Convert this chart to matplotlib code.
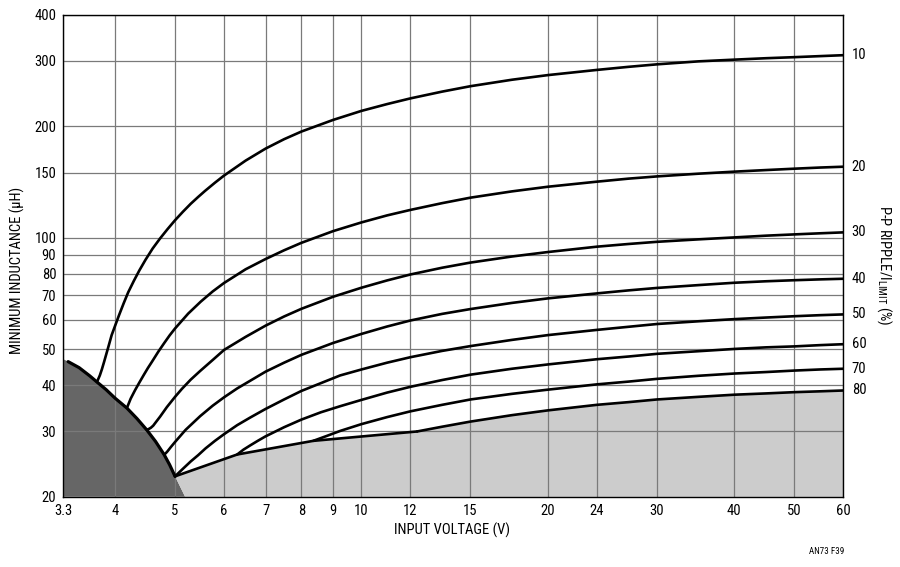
import matplotlib
matplotlib.use('Agg')
import matplotlib.pyplot as plt
from matplotlib import font_manager
from matplotlib.ticker import FixedLocator, FixedFormatter, NullLocator

_avail = {f.name for f in font_manager.fontManager.ttflist}
_main = 'DejaVu Sans'
for cand in ['Liberation Sans Narrow', 'Roboto Condensed', 'Arial Narrow', 'Open Sans Condensed',
             'Noto Sans Condensed', 'DejaVu Sans Condensed', 'Roboto', 'Liberation Sans']:
    if cand in _avail:
        _main = cand
        break
plt.rcParams['font.family'] = [_main, 'DejaVu Sans']
plt.rcParams['mathtext.fontset'] = 'custom'
plt.rcParams['mathtext.rm'] = _main

# ---------------- data ----------------
x_ticks = [3.3, 4, 5, 6, 7, 8, 9, 10, 12, 15, 20, 24, 30, 40, 50, 60]
x_tick_labels = ['3.3', '4', '5', '6', '7', '8', '9', '10', '12', '15', '20', '24', '30', '40', '50', '60']
y_ticks = [20, 30, 40, 50, 60, 70, 80, 90, 100, 150, 200, 300, 400]
y_tick_labels = ['20', '30', '40', '50', '60', '70', '80', '90', '100', '150', '200', '300', '400']

ripple_labels = ['10', '20', '30', '40', '50', '60', '70', '80']

c10_v = [3.74, 3.78, 3.81, 3.84, 3.9, 3.95, 4.0, 4.06, 4.13, 4.2, 4.29, 4.38, 4.48, 4.6, 4.73, 4.86, 5.0,
         5.15, 5.3, 5.45, 5.59, 5.8, 6, 6.5, 7, 7.5, 8, 9, 10, 11, 12, 13.5, 15, 17.5, 20, 24, 27, 30, 35, 40, 45, 50, 55, 60]
c10_l = [40.8, 42.5, 44.2, 46.2, 50.6, 54.6, 57.8, 61.8, 66.5, 71.2, 76.5, 81.7, 87.2, 93.5, 99.6, 105.4, 111.5,
         117.6, 123.5, 128.9, 133.8, 140.8, 147.2, 161.5, 174, 184.5, 193.5, 208, 220, 229.5, 237.8, 248, 256.5, 267, 274.8, 283.8, 289.3, 293.8, 299.3, 302.5, 305.2, 307.2, 309.2, 311]

c20_v = [4.18, 4.24, 4.31, 4.38, 4.45, 4.52, 4.59, 4.7, 4.8, 4.9, 5.0, 5.25, 5.5, 5.75, 6, 6.5, 7, 7.5, 8, 9, 10, 11, 12, 13.5, 15, 17.5, 20, 24, 27, 30, 35, 40, 45, 50, 55, 60]
c20_l = [34.7, 36.8, 38.8, 40.7, 42.6, 44.5, 46.3, 49.3, 51.9, 54.5, 56.9, 62.4, 67.2, 71.6, 75.5, 82.2, 87.6, 92.5, 96.9, 104.2, 110, 114.9, 118.9, 124, 128.3, 133.4, 137.3, 141.7, 144.4, 146.4, 148.9, 150.8, 152.3, 153.6, 154.7, 155.5]

c30_v = [4.50, 4.54, 4.57, 4.61, 4.65, 4.73, 4.85, 5.0, 5.13, 5.3, 5.49, 5.77, 6.0, 6.5, 7, 7.5, 8, 9, 10, 11, 12, 13.5, 15, 17.5, 20, 24, 27, 30, 35, 40, 45, 50, 55, 60]
c30_l = [30.3, 30.5, 30.7, 31.1, 31.7, 32.9, 34.9, 37.2, 39.1, 41.4, 43.7, 47.0, 49.8, 54.0, 57.9, 61.3, 64.3, 69.3, 73.3, 76.7, 79.6, 83.0, 85.7, 89.0, 91.5, 94.6, 96.2, 97.5, 99.0, 100.2, 101.3, 102.1, 102.8, 103.4]

c40_v = [4.80, 4.83, 4.86, 4.92, 5.0, 5.2, 5.49, 5.75, 6, 6.3, 6.61, 7, 7.5, 8, 9, 10, 11, 12, 13.5, 15, 17.5, 20, 24.3, 27, 30, 35, 40, 45, 50, 55, 60]
c40_l = [26.0, 26.2, 26.5, 27.2, 28.1, 30.3, 33.0, 35.2, 37.1, 39.2, 41.1, 43.5, 46.0, 48.3, 52.0, 55.0, 57.6, 59.8, 62.3, 64.2, 66.7, 68.6, 70.9, 72.1, 73.2, 74.5, 75.6, 76.3, 76.8, 77.2, 77.5]

c50_v = [5.0, 5.15, 5.3, 5.45, 5.6, 5.8, 6, 6.3, 6.61, 7, 7.5, 8, 9.24, 10, 11, 12, 13.5, 15, 17.5, 20, 24, 27, 30, 35, 40, 45, 50, 55, 60]
c50_l = [22.7, 23.8, 24.9, 25.9, 27.0, 28.3, 29.5, 31.2, 32.7, 34.5, 36.6, 38.6, 42.5, 44.1, 46.0, 47.6, 49.5, 51.0, 53.0, 54.6, 56.4, 57.5, 58.5, 59.5, 60.3, 60.9, 61.4, 61.8, 62.1]

c60_v = [6.3, 6.45, 6.61, 6.8, 7, 7.5, 8, 8.6, 9.24, 10, 11, 12, 13.5, 15, 17.5, 20, 24, 27, 30, 35, 40, 45, 50, 55, 60]
c60_l = [26.0, 26.8, 27.5, 28.3, 29.1, 30.8, 32.3, 33.8, 35.1, 36.5, 38.2, 39.6, 41.3, 42.7, 44.3, 45.5, 47.0, 47.8, 48.6, 49.4, 50.1, 50.6, 50.9, 51.3, 51.6]

c70_v = [8.36, 8.8, 9.24, 10, 11, 12, 13.5, 15, 17.5, 20, 24, 27, 30, 35, 40, 45, 50, 55, 60]
c70_l = [28.3, 29.2, 30.1, 31.4, 32.8, 34.0, 35.4, 36.6, 37.9, 38.9, 40.2, 40.9, 41.6, 42.4, 43.0, 43.4, 43.8, 44.1, 44.3]

c80_v = [12.3, 13.5, 15, 17.5, 20, 24, 27, 30, 35, 40, 45, 50, 55, 60]
c80_l = [30.0, 30.9, 31.9, 33.2, 34.2, 35.4, 36.0, 36.6, 37.2, 37.7, 38.0, 38.3, 38.5, 38.7]

# dark region boundary (left)
dark_v = [3.3, 3.36, 3.5, 3.64, 3.74, 3.87, 4.0, 4.18, 4.34, 4.5, 4.65, 4.8, 4.9, 5.0]
dark_l = [47.0, 46.3, 44.6, 42.4, 40.8, 38.9, 36.9, 34.7, 32.5, 30.3, 28.2, 26.0, 24.4, 22.7]
dark_foot_v = 5.19

# light region boundary (lower right, before the 80% curve)
light_v = [5.0, 6.3, 8.36, 12.3]
light_l = [22.7, 26.0, 28.3, 30.0]

curves = [(c10_v, c10_l), (c20_v, c20_l), (c30_v, c30_l), (c40_v, c40_l),
          (c50_v, c50_l), (c60_v, c60_l), (c70_v, c70_l), (c80_v, c80_l)]

# ---------------- figure ----------------
fig = plt.figure(figsize=(9, 5.67), dpi=100)
ax = fig.add_axes([63.3 / 900, 1 - 496.7 / 567, (843.3 - 63.3) / 900, (496.7 - 14.7) / 567])
ax.set_xscale('log')
ax.set_yscale('log')
ax.set_xlim(3.3, 60)
ax.set_ylim(20, 400)

ymin = 20
dx = [dark_v[0]] + dark_v + [dark_foot_v]
dy = [ymin] + dark_l + [ymin]
ax.fill(dx, dy, color='#666666', lw=0, zorder=1)

lx = [dark_foot_v] + light_v + c80_v[1:] + [c80_v[-1]]
ly = [ymin] + light_l + c80_l[1:] + [ymin]
ax.fill(lx, ly, color='#cccccc', lw=0, zorder=1)

ax.xaxis.set_major_locator(FixedLocator(x_ticks))
ax.xaxis.set_major_formatter(FixedFormatter(x_tick_labels))
ax.xaxis.set_minor_locator(NullLocator())
ax.yaxis.set_major_locator(FixedLocator(y_ticks))
ax.yaxis.set_major_formatter(FixedFormatter(y_tick_labels))
ax.yaxis.set_minor_locator(NullLocator())
ax.grid(True, which='major', color='#7a7a7a', lw=0.9, zorder=2)
ax.set_axisbelow(False)
ax.tick_params(axis='both', length=0, labelsize=10.5, pad=5)

ax.plot(dark_v[1:], dark_l[1:], color='black', lw=2.3, zorder=4, solid_capstyle='round')
ax.plot(light_v, light_l, color='black', lw=1.9, zorder=4, solid_capstyle='round')

for (v, l), lab in zip(curves, ripple_labels):
    ax.plot(v, l, color='black', lw=1.9, zorder=4, solid_capstyle='round', solid_joinstyle='round')
    ax.annotate(lab, xy=(v[-1], l[-1]), xytext=(6, 0), textcoords='offset points',
                ha='left', va='center', fontsize=10.5, annotation_clip=False)

for s in ax.spines.values():
    s.set_color('black')
    s.set_linewidth(1.0)
    s.set_zorder(5)

fig.text(452 / 900, 1 - 530 / 567, 'INPUT VOLTAGE (V)', ha='center', va='center', fontsize=10.5)
fig.text(17 / 900, 1 - 270 / 567, 'MINIMUM INDUCTANCE (µH)', ha='center', va='center',
         rotation=90, fontsize=10.5)
fig.text(884 / 900, 1 - 265 / 567, r'P-P RIPPLE/I$_\mathregular{LIMIT}$ (%)', ha='center', va='center',
         rotation=-90, fontsize=10.5)
fig.text(827 / 900, 1 - 551 / 567, 'AN73 F39', ha='center', va='center', fontsize=6.5)

fig.savefig('out.png', dpi=100)
